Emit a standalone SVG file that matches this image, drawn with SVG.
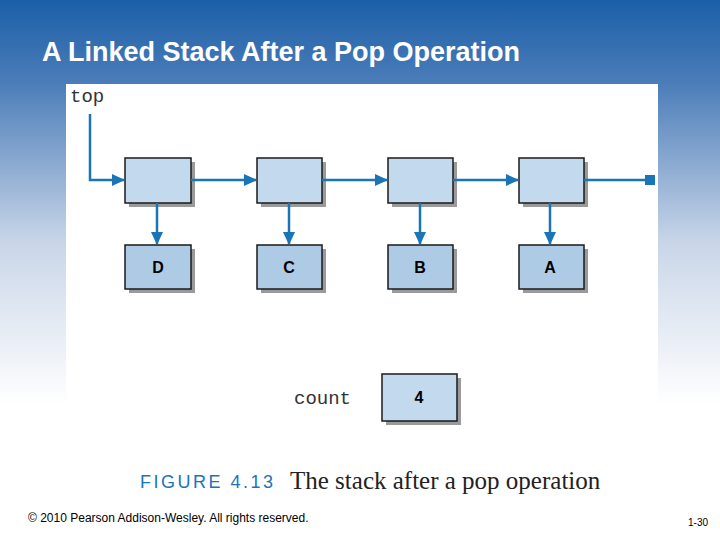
<svg xmlns="http://www.w3.org/2000/svg" width="720" height="540" viewBox="0 0 720 540">
<defs>
<linearGradient id="bg" x1="0" y1="0" x2="0" y2="1">
<stop offset="0" stop-color="#1b5fa8"/><stop offset="0.15" stop-color="#4a7cb8"/><stop offset="0.45" stop-color="#c9d6e8"/><stop offset="0.75" stop-color="#ffffff"/><stop offset="1" stop-color="#ffffff"/>
</linearGradient>
<marker id="ah" markerWidth="13" markerHeight="12" refX="12" refY="6" orient="auto" markerUnits="userSpaceOnUse"><path d="M0,0 L13,6 L0,12 z" fill="#1a75b8"/></marker>
</defs>
<style>
.box{fill:#c3d9ee;stroke:#1a1a1a;stroke-width:1.5}
.dat{fill:#aecbe6;stroke:#1a1a1a;stroke-width:1.5}
.sh{fill:#9a9a9a}
.lbl{font-family:"Liberation Sans",Arial,sans-serif;font-weight:bold;font-size:16px;text-anchor:middle}
.ln{stroke:#1a75b8;stroke-width:2.5;fill:none}
.mono{font-family:"Liberation Mono","Courier New",monospace;font-size:19px;fill:#333}
</style>
<rect width="720" height="540" fill="url(#bg)"/>
<rect x="66" y="84" width="592" height="380" fill="#fff"/>
<text x="42" y="61" font-family="Liberation Sans,Arial,sans-serif" font-size="27" font-weight="bold" fill="#fff">A Linked Stack After a Pop Operation</text>
<text x="70" y="102" class="mono">top</text>
<g id="n1"><rect x="129" y="162" width="66" height="45" class="sh"/><rect x="125" y="158" width="66" height="45" class="box"/></g>
<g id="n2"><rect x="261" y="162" width="65" height="45" class="sh"/><rect x="257" y="158" width="65" height="45" class="box"/></g>
<g id="n3"><rect x="392" y="162" width="65" height="45" class="sh"/><rect x="388" y="158" width="65" height="45" class="box"/></g>
<g id="n4"><rect x="523" y="162" width="65" height="45" class="sh"/><rect x="519" y="158" width="65" height="45" class="box"/></g>
<g id="d"><rect x="129" y="249" width="66" height="44" class="sh"/><rect x="125" y="245" width="66" height="44" class="dat"/><text x="158" y="273" class="lbl">D</text></g>
<g id="c"><rect x="261" y="249" width="65" height="44" class="sh"/><rect x="257" y="245" width="65" height="44" class="dat"/><text x="289" y="273" class="lbl">C</text></g>
<g id="b"><rect x="392" y="249" width="65" height="44" class="sh"/><rect x="388" y="245" width="65" height="44" class="dat"/><text x="420" y="273" class="lbl">B</text></g>
<g id="a"><rect x="523" y="249" width="65" height="44" class="sh"/><rect x="519" y="245" width="65" height="44" class="dat"/><text x="550" y="273" class="lbl">A</text></g>
<text x="294" y="404" class="mono">count</text>
<g id="cnt"><rect x="386" y="378" width="75" height="47" class="sh"/><rect x="382" y="374" width="75" height="47" class="box"/><text x="419" y="403" class="lbl">4</text></g>
<g id="connectors">
<path d="M90,114 V180 H124" class="ln" marker-end="url(#ah)"/>
<path d="M191,180 H256" class="ln" marker-end="url(#ah)"/>
<path d="M322,180 H387" class="ln" marker-end="url(#ah)"/>
<path d="M453,180 H518" class="ln" marker-end="url(#ah)"/>
<path d="M584,180 H648" class="ln"/>
<rect x="645" y="175" width="10" height="10" fill="#1a75b8"/>
<path d="M157,203 V244" class="ln" marker-end="url(#ah)"/>
<path d="M289,203 V244" class="ln" marker-end="url(#ah)"/>
<path d="M420,203 V244" class="ln" marker-end="url(#ah)"/>
<path d="M550,203 V244" class="ln" marker-end="url(#ah)"/>
</g>
<text x="140" y="488" font-family="Liberation Sans,Arial,sans-serif" font-size="18" letter-spacing="2.5" fill="#1a75b8">FIGURE 4.13</text>
<text x="290" y="489" font-family="Liberation Serif,Times New Roman,serif" font-size="25" fill="#222">The stack after a pop operation</text>
<text x="28" y="522" font-family="Liberation Sans,Arial,sans-serif" font-size="12" fill="#000">© 2010 Pearson Addison-Wesley. All rights reserved.</text>
<text x="688" y="526" font-family="Liberation Sans,Arial,sans-serif" font-size="10" fill="#000">1-30</text>
</svg>
